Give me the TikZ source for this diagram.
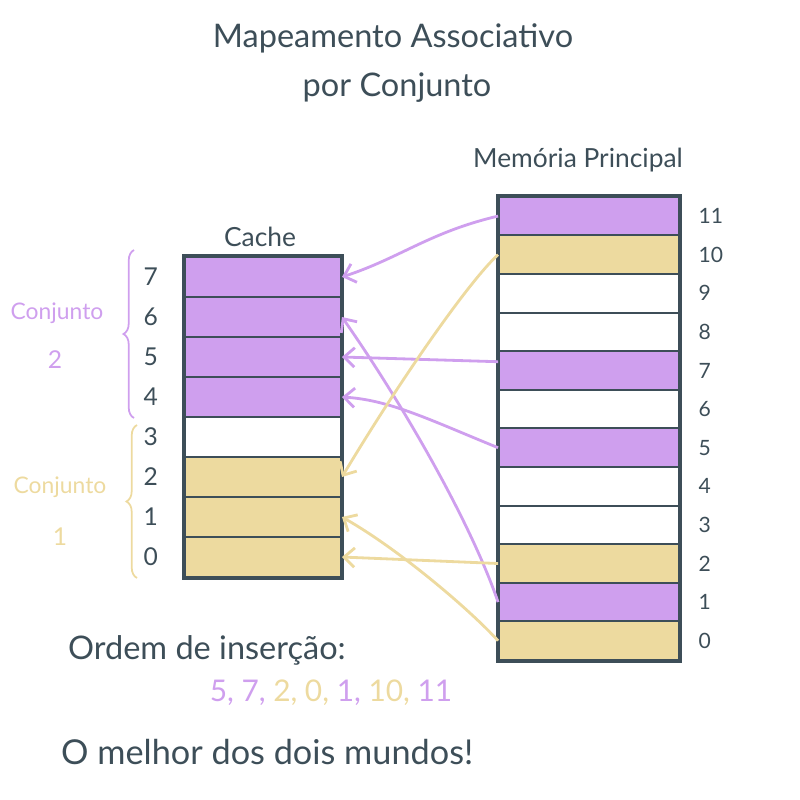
\documentclass[tikz,border=0pt]{standalone}
\usepackage{fontspec}
\setmainfont{Lato}
\usetikzlibrary{arrows.meta,decorations.pathreplacing,positioning}
\definecolor{roxo}{HTML}{CF9FEE}
\definecolor{areia}{HTML}{EDDA9F}
\definecolor{tinta}{HTML}{3D4E58}

\begin{document}
\begin{tikzpicture}[x=0.02cm,y=-0.02cm,
  cel/.style={draw=tinta, line width=1.1pt, minimum width=3.12cm, minimum height=0.8cm, inner sep=0pt},
  mem/.style={draw=tinta, line width=1.1pt, minimum width=3.6cm, minimum height=0.772cm, inner sep=0pt},
  num/.style={text=tinta, font=\fontsize{14}{16}\selectfont},
  texto/.style={text=tinta, font=\fontsize{18.5}{22}\selectfont},
  seta/.style={line width=1.6pt, -{Straight Barb[length=6pt,width=11pt]}},
  chave/.style={line width=1pt, decorate, decoration={brace, amplitude=6pt}}]
\useasboundingbox (0,0) rectangle (800,800);

% titulo
\node[texto] (tit1) at (393,38) {Mapeamento Associativo};
\node[texto] (tit2) at (397,88) {por Conjunto};

% cache
\node[texto, font=\fontsize{15}{18}\selectfont] (cache) at (260,237) {Cache};
\foreach \i/\cor in {0/areia,1/areia,2/areia,3/white,4/roxo,5/roxo,6/roxo,7/roxo}{
  \node[cel, fill=\cor] (c\i) at (263,557-40*\i) {};
  \node[num, left=0.4cm of c\i.west] (nc\i) {\i};
}
\draw[tinta, line width=2.2pt] (c7.north west) rectangle (c0.south east);

% conjuntos
\draw[chave, roxo] (134,418) -- (134,250);
\draw[chave, areia] (137,578) -- (137,425);
\node[text=roxo, font=\fontsize{13}{15}\selectfont] (conj2) at (57,313) {Conjunto};
\node[text=roxo, font=\fontsize{14}{16}\selectfont] (n2) at (55,360) {2};
\node[text=areia, font=\fontsize{13}{15}\selectfont] (conj1) at (60,487) {Conjunto};
\node[text=areia, font=\fontsize{14}{16}\selectfont] (n1) at (60,537) {1};

% memoria principal
\node[texto, font=\fontsize{15}{18}\selectfont] (memoria) at (578,160) {Memória Principal};
\foreach \j/\cor in {0/areia,1/roxo,2/areia,3/white,4/white,5/roxo,6/white,7/roxo,8/white,9/white,10/areia,11/roxo}{
  \node[mem, fill=\cor] (m\j) at (589,640.7-38.6*\j) {};
  \node[num, font=\fontsize{12}{14}\selectfont, right=0.25cm of m\j.east] (nm\j) {\j};
}
\draw[tinta, line width=2.2pt] (m11.north west) rectangle (m0.south east);

% insercoes
\draw[seta, roxo] (m11.west) .. controls (430,232) and (400,258) .. (c7.east);
\draw[seta, roxo] ([yshift=5pt]m7.west) -- (c5.east);
\draw[seta, roxo] (m5.west) .. controls (430,420) and (390,400) .. (c4.east);
\draw[seta, roxo] (m1.west) .. controls (470,520) and (400,400) .. (c6.east);
\draw[seta, areia] (m10.west) .. controls (470,280) and (400,380) .. (c2.east);
\draw[seta, areia] (m2.west) -- (c0.east);
\draw[seta, areia] (m0.west) .. controls (470,610) and (400,550) .. (c1.east);

% ordem
\node[texto, anchor=west] (ordem) at (62,650) {Ordem de inserção:};
\node[texto, font=\fontsize{17}{20}\selectfont] (seq) at (331,693)
  {\textcolor{roxo}{5, 7,} \textcolor{areia}{2, 0,} \textcolor{roxo}{1,} \textcolor{areia}{10,} \textcolor{roxo}{11}};
\node[texto, font=\fontsize{19.5}{22}\selectfont, anchor=west] (fim) at (55,752) {O melhor dos dois mundos!};
\end{tikzpicture}
\end{document}
